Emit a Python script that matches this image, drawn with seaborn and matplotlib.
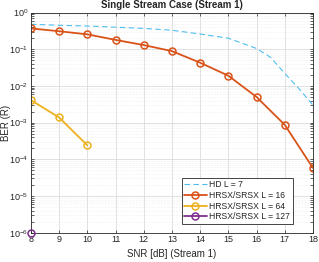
import numpy as np
import pandas as pd
import matplotlib
matplotlib.use("Agg")
import matplotlib.pyplot as plt
import seaborn as sns

# data
snr = [8, 9, 10, 11, 12, 13, 14, 15, 16, 17, 18]
hd_snr = [8, 9, 10, 11, 12, 13, 14, 15, 16, 16.5, 17, 17.5, 18]
hd_ber = [0.48, 0.45, 0.43, 0.40, 0.37, 0.33, 0.26, 0.20, 0.105, 0.06, 0.022, 0.0085, 0.003]
ber_16 = [0.37, 0.31, 0.255, 0.18, 0.13, 0.089, 0.043, 0.019, 0.005, 8.7e-4, 5.8e-5]
snr_64 = [8, 9, 10]
ber_64 = [0.0041, 0.00138, 2.4e-4]
snr_127 = [8]
ber_127 = [1e-6]

sns.set_style("ticks")
plt.rcParams["font.family"] = ["Liberation Sans", "DejaVu Sans"]
plt.rcParams["mathtext.fontset"] = "custom"
plt.rcParams["mathtext.rm"] = "Liberation Sans"
plt.rcParams["mathtext.it"] = "Liberation Sans:italic"
plt.rcParams["mathtext.bf"] = "Liberation Sans:bold"

fig = plt.figure(figsize=(3.19, 2.62), dpi=100)
ax = fig.add_axes([0.097, 0.112, 0.884, 0.840])

sns.lineplot(x=hd_snr, y=hd_ber, ax=ax, color="#4DBEEE", linestyle=(0, (5, 3)),
             linewidth=0.8, label="HD L = 7")
sns.lineplot(x=snr, y=ber_16, ax=ax, color="#D95319", linewidth=1.3, marker="o",
             markersize=5, markerfacecolor="none", markeredgecolor="#D95319",
             markeredgewidth=1.1, label="HRSX/SRSX L = 16")
sns.lineplot(x=snr_64, y=ber_64, ax=ax, color="#EDB120", linewidth=1.3, marker="o",
             markersize=5, markerfacecolor="none", markeredgecolor="#EDB120",
             markeredgewidth=1.1, label="HRSX/SRSX L = 64")
sns.lineplot(x=snr_127, y=ber_127, ax=ax, color="#7E2F8E", linewidth=1.3, marker="o",
             markersize=5, markerfacecolor="none", markeredgecolor="#7E2F8E",
             markeredgewidth=1.1, label="HRSX/SRSX L = 127", clip_on=False, zorder=5)

ax.set_yscale("log")
ax.set_xlim(8, 18)
ax.set_ylim(1e-6, 1)
ax.set_xticks(range(8, 19))
ax.grid(True, which="major", color="#dcdcdc", linewidth=0.6)
ax.grid(True, which="minor", color="#e4e4e4", linewidth=0.4, linestyle=":")
ax.minorticks_on()
ax.xaxis.set_minor_locator(matplotlib.ticker.NullLocator())
ax.tick_params(labelsize=6.5, colors="#262626", length=2, width=0.5, which="both", direction="in",
               top=True, right=True, pad=2)
for s in ax.spines.values():
    s.set_color("#262626")
    s.set_linewidth(0.6)

ax.set_title("Single Stream Case (Stream 1)", fontsize=7, fontweight="bold", pad=3)
ax.set_xlabel("SNR [dB] (Stream 1)", fontsize=7, color="#262626", labelpad=3.5)
ax.set_ylabel("BER (R)", fontsize=7, color="#262626")
ax.yaxis.set_label_coords(-0.072, 0.5)

leg = ax.legend(loc="lower right", bbox_to_anchor=(0.943, 0.02), fontsize=6.2,
                frameon=True, fancybox=False, edgecolor="#262626", framealpha=1,
                handlelength=2.6, borderpad=0.3, labelspacing=0.2, handletextpad=0.3)
leg.get_frame().set_linewidth(0.6)

fig.savefig("out.png", dpi=100)
